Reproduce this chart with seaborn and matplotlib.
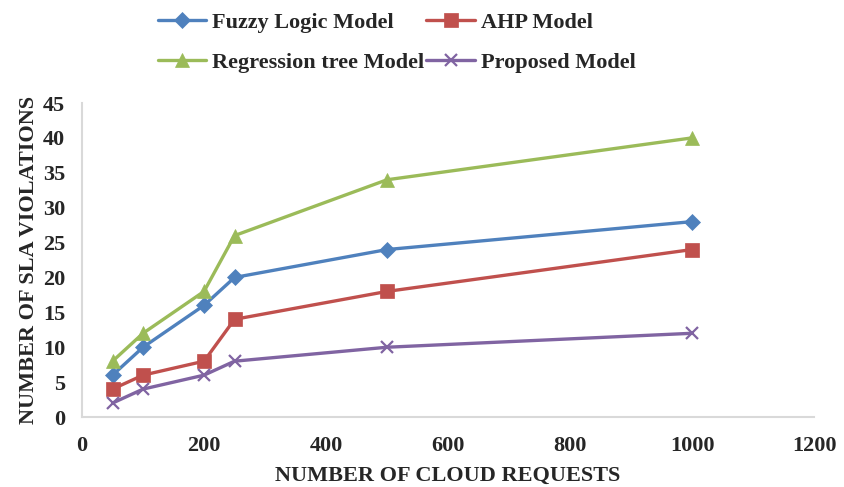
import matplotlib
matplotlib.use("Agg")
import matplotlib.pyplot as plt
import seaborn as sns
import pandas as pd

# Number of cloud requests and SLA violations per model
requests = [50, 100, 200, 250, 500, 1000]
fuzzy_logic = [6, 10, 16, 20, 24, 28]
ahp = [4, 6, 8, 14, 18, 24]
regression_tree = [8, 12, 18, 26, 34, 40]
proposed = [2, 4, 6, 8, 10, 12]

series_names = ["Fuzzy Logic Model", "AHP Model", "Regression tree Model", "Proposed Model"]
series_values = [fuzzy_logic, ahp, regression_tree, proposed]
colors = ["#4F81BD", "#C0504D", "#9BBB59", "#8064A2"]
markers = ["D", "s", "^", "x"]
marker_sizes = [8, 10, 10, 9]

x_ticks = [0, 200, 400, 600, 800, 1000, 1200]
y_ticks = [0, 5, 10, 15, 20, 25, 30, 35, 40, 45]

df = pd.DataFrame({
    "requests": requests * len(series_names),
    "violations": [v for vals in series_values for v in vals],
    "model": [n for n in series_names for _ in requests],
})

sns.set_theme(style="white")
plt.rcParams["font.family"] = ["Liberation Serif", "DejaVu Serif"]
plt.rcParams["font.weight"] = "bold"

FS = 16

fig = plt.figure(figsize=(8.44, 4.87), dpi=100)
ax = fig.add_axes([0.0972, 0.1437, 0.8673, 0.6448])

for name, color, mk, ms in zip(series_names, colors, markers, marker_sizes):
    sub = df[df["model"] == name]
    sns.lineplot(data=sub, x="requests", y="violations", ax=ax, color=color,
                 marker=mk, markersize=ms, markeredgecolor=color,
                 markeredgewidth=1.6 if mk == "x" else 0.5,
                 linewidth=2.4, label=name, legend=False)

ax.set_xlim(0, 1200)
ax.set_ylim(0, 45)
ax.set_xticks(x_ticks)
ax.set_yticks(y_ticks)
ax.tick_params(axis="x", length=0, labelsize=FS, pad=14)
ax.tick_params(axis="y", length=0, labelsize=FS, pad=12)
for lbl in ax.get_xticklabels() + ax.get_yticklabels():
    lbl.set_fontweight("bold")

ax.set_xlabel("NUMBER OF CLOUD REQUESTS", fontsize=FS, fontweight="bold", labelpad=7)
ax.set_ylabel("NUMBER OF SLA VIOLATIONS", fontsize=FS, fontweight="bold", labelpad=3)

for side in ["top", "right"]:
    ax.spines[side].set_visible(False)
for side in ["left", "bottom"]:
    ax.spines[side].set_color("#D9D9D9")
    ax.spines[side].set_linewidth(1.5)

# Row-wise legend order: matplotlib fills columns first
handles, labels = ax.get_legend_handles_labels()
order = [0, 2, 1, 3]
fig.legend([handles[i] for i in order], [labels[i] for i in order],
           ncol=2, loc="upper left", bbox_to_anchor=(0.163, 1.015),
           frameon=False, handlelength=2.2, columnspacing=0.1,
           handletextpad=0.25, labelspacing=0.85,
           prop={"weight": "bold", "size": FS})

fig.savefig("out.png", dpi=100)
